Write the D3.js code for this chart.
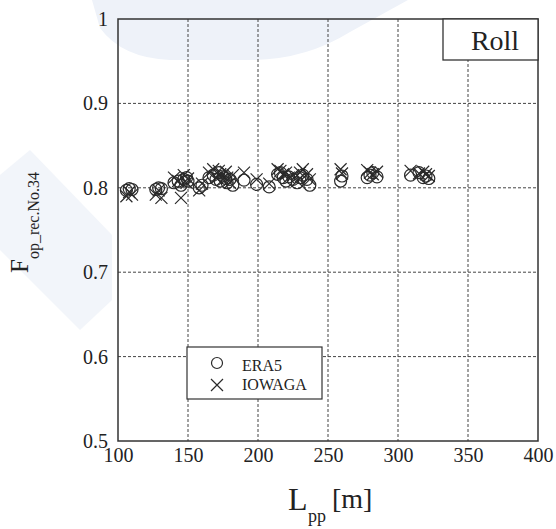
<!DOCTYPE html>
<html>
<head>
<meta charset="utf-8">
<script src="https://cdn.jsdelivr.net/npm/d3@7"></script>
<style>
  body { margin: 0; background: #fff; }
  svg { display: block; }
  text { font-family: "Liberation Serif", "Times New Roman", serif; fill: #222; }
</style>
</head>
<body>
<svg id="chart" width="556" height="529"></svg>
<script>
// ship length Lpp [m]
var lpp = [106, 108, 110, 127, 129, 131, 140, 143, 145, 147, 149, 150, 158, 160,
           165, 168, 170, 172, 173, 175, 177, 178, 180, 182, 190, 199, 208, 214,
           216, 218, 220, 222, 225, 228, 230, 232, 235, 237, 259, 260, 278, 280,
           282, 285, 309, 315, 318, 320, 322];
// F_op_rec.No.34 with ERA5 wave data
var era5 = [0.797, 0.799, 0.798, 0.798, 0.800, 0.799, 0.806, 0.808, 0.803, 0.810, 0.812, 0.808, 0.800, 0.803,
            0.812, 0.815, 0.810, 0.818, 0.808, 0.814, 0.811, 0.806, 0.810, 0.803, 0.809, 0.804, 0.801, 0.816,
            0.818, 0.812, 0.808, 0.813, 0.810, 0.806, 0.812, 0.815, 0.810, 0.803, 0.808, 0.814, 0.812, 0.815,
            0.818, 0.813, 0.815, 0.818, 0.812, 0.814, 0.811];
// F_op_rec.No.34 with IOWAGA wave data
var iowaga = [0.790, 0.795, 0.792, 0.792, 0.797, 0.788, 0.812, 0.808, 0.788, 0.815, 0.806, 0.811, 0.797, 0.805,
              0.818, 0.822, 0.812, 0.820, 0.816, 0.810, 0.819, 0.812, 0.806, 0.815, 0.818, 0.810, 0.805, 0.822,
              0.820, 0.816, 0.818, 0.812, 0.815, 0.808, 0.818, 0.822, 0.816, 0.810, 0.822, 0.817, 0.821, 0.818,
              0.816, 0.819, 0.820, 0.817, 0.819, 0.816, 0.814];
var xTicks = [100, 150, 200, 250, 300, 350, 400];
var yTicks = [0.5, 0.6, 0.7, 0.8, 0.9, 1];
var yTickLabels = ["0.5", "0.6", "0.7", "0.8", "0.9", "1"];

var svg = d3.select("#chart");
var m = { left: 118, top: 19, right: 538, bottom: 441 };

var x = d3.scaleLinear().domain([100, 400]).range([m.left, m.right]);
var y = d3.scaleLinear().domain([0.5, 1]).range([m.bottom, m.top]);

// faint watermark shapes in the background
var wm = svg.append("g").attr("fill", "#eef2f9");
wm.append("path").attr("d", "M92,0 L408,0 L350,32 Q305,60 250,60 L170,60 Q122,58 100,28 Z");
wm.append("path").attr("d", "M0,175 L30,150 L112,235 L112,300 L80,330 L0,250 Z").attr("fill", "#f2f5fa");

// grid
var grid = svg.append("g")
   .attr("stroke", "#444")
   .attr("stroke-width", 1)
   .attr("stroke-dasharray", "3,2");
grid.selectAll("line.gx")
   .data(xTicks.slice(1, -1))
   .join("line")
   .attr("class", "gx")
   .attr("x1", function(d) { return x(d); })
   .attr("x2", function(d) { return x(d); })
   .attr("y1", m.top)
   .attr("y2", m.bottom);
grid.selectAll("line.gy")
   .data(yTicks.slice(1, -1))
   .join("line")
   .attr("class", "gy")
   .attr("x1", m.left)
   .attr("x2", m.right)
   .attr("y1", function(d) { return y(d); })
   .attr("y2", function(d) { return y(d); });

// axes (labels only, frame drawn separately)
var xAxis = svg.append("g")
   .attr("transform", "translate(0," + m.bottom + ")")
   .call(d3.axisBottom(x).tickValues(xTicks).tickSize(0).tickPadding(21));
var yAxis = svg.append("g")
   .attr("transform", "translate(" + m.left + ",0)")
   .call(d3.axisLeft(y).tickValues(yTicks).tickSize(0).tickPadding(10)
      .tickFormat(function(d, i) { return yTickLabels[i]; }));
[xAxis, yAxis].forEach(function(a) {
   a.attr("font-family", null);
   a.select(".domain").remove();
   a.selectAll("text")
      .style("font-family", "'Liberation Serif', serif")
      .style("font-size", "20px")
      .attr("fill", "#222");
});
xAxis.selectAll("text").attr("dy", "0");
yAxis.selectAll("text").attr("dy", "0.32em");

// data markers
var pts = svg.append("g").attr("fill", "none").attr("stroke", "#2a2a2a").attr("stroke-width", 1.2);
pts.selectAll("circle")
   .data(lpp)
   .join("circle")
   .attr("cx", function(d) { return x(d); })
   .attr("cy", function(d, i) { return y(era5[i]); })
   .attr("r", 6);
var s = 6;
pts.selectAll("path.cross")
   .data(lpp)
   .join("path")
   .attr("class", "cross")
   .attr("d", function(d, i) {
      var cx = x(d), cy = y(iowaga[i]);
      return "M" + (cx - s) + "," + (cy - s) + "L" + (cx + s) + "," + (cy + s) +
             "M" + (cx - s) + "," + (cy + s) + "L" + (cx + s) + "," + (cy - s);
   });

// frame
svg.append("rect")
   .attr("x", m.left).attr("y", m.top)
   .attr("width", m.right - m.left).attr("height", m.bottom - m.top)
   .attr("fill", "none").attr("stroke", "#333").attr("stroke-width", 1.5);

// "Roll" box
svg.append("rect")
   .attr("x", 443).attr("y", m.top).attr("width", m.right - 443).attr("height", 41)
   .attr("fill", "#fff").attr("stroke", "#333").attr("stroke-width", 1.3);
svg.append("text")
   .attr("x", 495).attr("y", 50).attr("text-anchor", "middle")
   .style("font-size", "28px").text("Roll");

// legend
var lg = svg.append("g");
lg.append("rect")
   .attr("x", 187).attr("y", 347).attr("width", 135).attr("height", 52)
   .attr("fill", "#fff").attr("stroke", "#333").attr("stroke-width", 1.2);
lg.append("circle").attr("cx", 217).attr("cy", 363).attr("r", 5.5)
   .attr("fill", "none").attr("stroke", "#2a2a2a").attr("stroke-width", 1.2);
lg.append("path").attr("d", "M211,379L223,391M211,391L223,379")
   .attr("stroke", "#2a2a2a").attr("stroke-width", 1.2);
lg.append("text").attr("x", 242).attr("y", 371).style("font-size", "16px").text("ERA5");
lg.append("text").attr("x", 242).attr("y", 390).style("font-size", "16px").text("IOWAGA");

// axis titles
svg.append("text").attr("x", 288).attr("y", 510).style("font-size", "32px").text("L");
svg.append("text").attr("x", 308).attr("y", 522).style("font-size", "18px").text("pp");
svg.append("text").attr("x", 332).attr("y", 508).style("font-size", "28px").text("[m]");

var yl = svg.append("text")
   .attr("transform", "translate(28,273) rotate(-90)");
yl.append("tspan").style("font-size", "25px").text("F");
yl.append("tspan").attr("dy", 11).style("font-size", "16px").text("op_rec.No.34");
</script>
</body>
</html>
